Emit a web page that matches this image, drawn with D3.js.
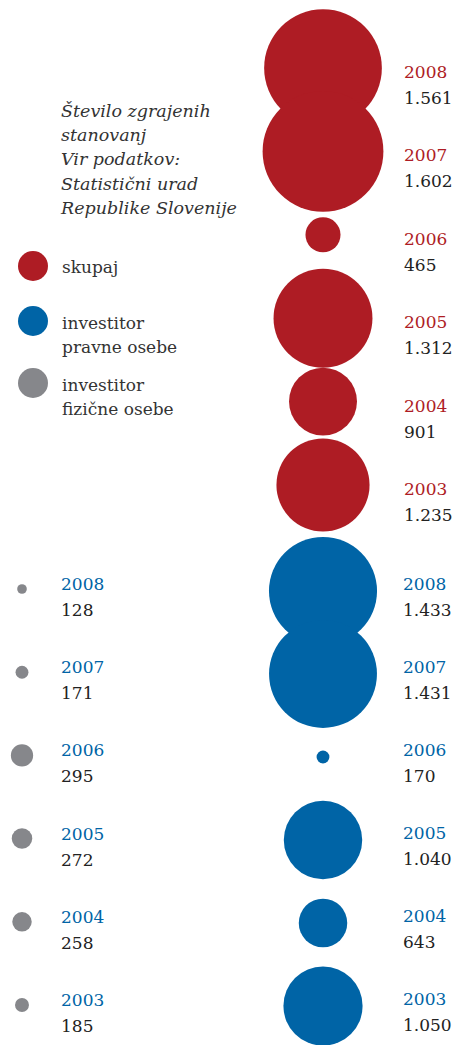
<!DOCTYPE html>
<html>
<head>
<meta charset="utf-8">
<script src="https://cdn.jsdelivr.net/npm/d3@7"></script>
<style>
  html, body { margin: 0; padding: 0; background: #fff; }
  svg { display: block; }
  text { font-family: "DejaVu Serif", serif; }
</style>
</head>
<body>
<svg id="chart" width="454" height="1045"></svg>
<script>
// ---- data ----
const years = [2008, 2007, 2006, 2005, 2004, 2003];
const skupaj = [1561, 1602, 465, 1312, 901, 1235];
const pravneOsebe = [1433, 1431, 170, 1040, 643, 1050];
const fizicneOsebe = [128, 171, 295, 272, 258, 185];
const titleLines = ["Število zgrajenih", "stanovanj", "Vir podatkov:", "Statistični urad", "Republike Slovenije"];
const legendLabels = [["skupaj"], ["investitor", "pravne osebe"], ["investitor", "fizične osebe"]];

const RED = "#ae1c24", BLUE = "#0064a6", GRAY = "#86878b", TXT = "#222";
const fmt = v => v >= 1000 ? Math.floor(v / 1000) + "." + String(v % 1000).padStart(3, "0") : String(v);

const svg = d3.select("#chart");

// scales
const r = d3.scaleLinear().domain([0, 1602]).range([0, 60.4]);
const yRed = d3.scalePoint().domain(years).range([68, 485]);
const yBlue = d3.scalePoint().domain(years).range([591, 1006]);
const yGray = d3.scalePoint().domain(years).range([589, 1005]);
const xMain = 323, xGray = 22;

function series(vals, yScale, cx, color, cls) {
  const data = years.map((y, i) => ({ year: y, v: vals[i] }));
  svg.append("g").attr("class", cls).selectAll("circle").data(data).join("circle")
    .attr("cx", cx).attr("cy", d => yScale(d.year)).attr("r", d => r(d.v)).attr("fill", color);
  return data;
}

function labels(data, yScale, x, color, off) {
  const g = svg.append("g");
  g.selectAll("text.yr").data(data).join("text").attr("class", "yr")
    .attr("x", x).attr("y", d => yScale(d.year) + off)
    .attr("font-size", 17).attr("fill", color).text(d => d.year);
  g.selectAll("text.val").data(data).join("text").attr("class", "val")
    .attr("x", x).attr("y", d => yScale(d.year) + off + 26)
    .attr("font-size", 17).attr("fill", TXT).text(d => fmt(d.v));
}

const dRed = series(skupaj, yRed, xMain, RED, "red");
const dBlue = series(pravneOsebe, yBlue, xMain, BLUE, "blue");
const dGray = series(fizicneOsebe, yGray, xGray, GRAY, "gray");

labels(dRed, yRed, 404, RED, 10);
labels(dBlue, yBlue, 403, BLUE, -1);
labels(dGray, yGray, 61, BLUE, 1);

// title
svg.append("g").selectAll("text").data(titleLines).join("text")
  .attr("x", 61).attr("y", (d, i) => 117 + i * 24.2)
  .attr("font-size", 17.5).attr("font-style", "italic").attr("fill", "#333").text(d => d);

// legend
const legColors = [RED, BLUE, GRAY];
const legY = [266, 321, 383];
const lg = svg.append("g");
legendLabels.forEach((lines, i) => {
  lg.append("circle").attr("cx", 33).attr("cy", legY[i]).attr("r", 15).attr("fill", legColors[i]);
  lines.forEach((t, j) => {
    lg.append("text").attr("x", 62).attr("y", legY[i] + 7 + (i === 0 ? 0 : 1) + j * 24)
      .attr("font-size", 17).attr("fill", "#333").text(t);
  });
});
</script>
</body>
</html>
